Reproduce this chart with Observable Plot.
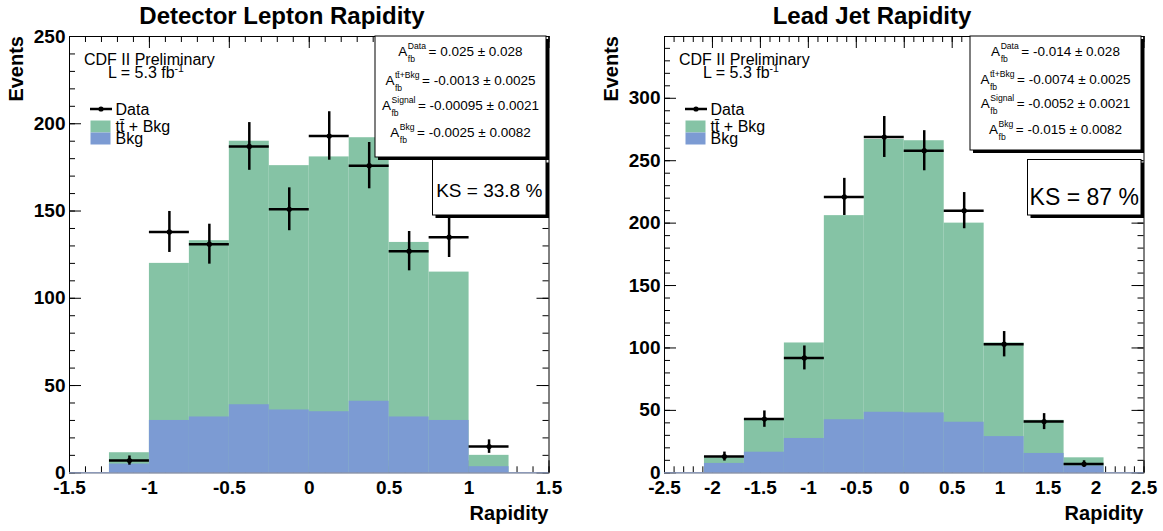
<!DOCTYPE html>
<html>
<head>
<meta charset="utf-8">
<script src="https://cdn.jsdelivr.net/npm/d3@7"></script>
<script src="https://cdn.jsdelivr.net/npm/@observablehq/plot@0.6"></script>
<style>
  html, body { margin: 0; padding: 0; background: #fff; }
  #wrap { display: flex; width: 1163px; height: 531px; overflow: hidden; }
  #wrap svg { display: block; }
</style>
</head>
<body>
<div id="wrap"></div>
<script>
// ---- Detector lepton rapidity: 10 filled bins of width 0.25 ----
const leptonEdges = [-1.25, -1, -0.75, -0.5, -0.25, 0, 0.25, 0.5, 0.75, 1, 1.25];
const leptonTotal = [11.5, 120, 133, 190, 176, 181, 192, 132, 115, 10];   // tt̄ + Bkg
const leptonBkg   = [5, 30, 32, 39, 36, 35, 41, 32, 30, 3.5];
const leptonData  = [7, 138, 131, 187, 151, 193, 176, 127, 135, 15];
const leptonXTicks = [-1.5, -1, -0.5, 0, 0.5, 1, 1.5];
const leptonYTicks = [0, 50, 100, 150, 200, 250];
const leptonAfb = [
  ["Data", "= 0.025 \u00b1 0.028"],
  ["tt\u0304+Bkg", "= -0.0013 \u00b1 0.0025"],
  ["Signal", "= -0.00095 \u00b1 0.0021"],
  ["Bkg", "= -0.0025 \u00b1 0.0082"]
];
const leptonKS = "KS = 33.8 %";

// ---- Lead jet rapidity: 10 filled bins of width 5/12 ----
const jetEdges = [-2.0833, -1.6667, -1.25, -0.8333, -0.4167, 0, 0.4167, 0.8333, 1.25, 1.6667, 2.0833];
const jetTotal = [12, 43, 104, 206, 267, 266, 200, 104, 42, 12];
const jetBkg   = [7.5, 16.5, 27.5, 42.5, 48.5, 48, 40.5, 29, 15.5, 5.5];
const jetData  = [13, 43, 92, 221, 269, 258, 210, 103, 41, 7];
const jetXTicks = [-2.5, -2, -1.5, -1, -0.5, 0, 0.5, 1, 1.5, 2, 2.5];
const jetYTicks = [0, 50, 100, 150, 200, 250, 300];
const jetAfb = [
  ["Data", "= -0.014 \u00b1 0.028"],
  ["tt\u0304+Bkg", "= -0.0074 \u00b1 0.0025"],
  ["Signal", "= -0.0052 \u00b1 0.0021"],
  ["Bkg", "= -0.015 \u00b1 0.0082"]
];
const jetKS = "KS = 87 %";

const FONT = "'Liberation Sans', Arial, Helvetica, sans-serif";
const GREEN = "#85c3a5";
const BLUE = "#7c9bd3";
const H = 531;

function drawPanel(cfg) {
  const frameW = cfg.width - cfg.ml - cfg.mr;
  const frameH = H - cfg.mt - cfg.mb;
  const bins = cfg.total.map((t, i) => ({
    x1: cfg.edges[i], x2: cfg.edges[i + 1],
    xc: (cfg.edges[i] + cfg.edges[i + 1]) / 2,
    total: t, bkg: cfg.bkg[i], data: cfg.data[i],
    lo: cfg.data[i] - Math.sqrt(cfg.data[i]),
    hi: cfg.data[i] + Math.sqrt(cfg.data[i])
  }));
  const minorX = d3.range(cfg.minorXRange[0], cfg.minorXRange[1] + 1).map(k => k / 10);
  const minorY = d3.range(0, cfg.yMax + 0.001, 10);
  const majorY = d3.range(0, cfg.yMax + 0.001, 50);

  const svg = Plot.plot({
    width: cfg.width, height: H,
    marginLeft: cfg.ml, marginRight: cfg.mr, marginTop: cfg.mt, marginBottom: cfg.mb,
    x: {domain: cfg.xDomain},
    y: {domain: [0, cfg.yMax]},
    style: {fontFamily: FONT, background: "#fff", color: "#000"},
    marks: [
      // inward ticks on all four sides
      Plot.tickX(minorX, {x: d => d, insetTop: frameH - 6, stroke: "#000"}),
      Plot.tickX(cfg.xTicks, {x: d => d, insetTop: frameH - 12, stroke: "#000"}),
      Plot.tickX(minorX, {x: d => d, insetBottom: frameH - 6, stroke: "#000"}),
      Plot.tickX(cfg.xTicks, {x: d => d, insetBottom: frameH - 12, stroke: "#000"}),
      Plot.tickY(minorY, {y: d => d, insetRight: frameW - 6, stroke: "#000"}),
      Plot.tickY(majorY, {y: d => d, insetRight: frameW - 12, stroke: "#000"}),
      Plot.tickY(minorY, {y: d => d, insetLeft: frameW - 6, stroke: "#000"}),
      Plot.tickY(majorY, {y: d => d, insetLeft: frameW - 12, stroke: "#000"}),
      // stacked expectation: tt̄ + Bkg, with Bkg drawn over it
      Plot.rect(bins, {x1: "x1", x2: "x2", y1: 0, y2: "total", fill: GREEN}),
      Plot.rect(bins, {x1: "x1", x2: "x2", y1: 0, y2: "bkg", fill: BLUE}),
      Plot.frame({stroke: "#000"}),
      Plot.ruleY([0], {stroke: "#a9bbe6"}),
      // data points with bin-width and Poisson error bars
      Plot.ruleY(bins, {x1: "x1", x2: "x2", y: "data", stroke: "#000", strokeWidth: 2.5}),
      Plot.ruleX(bins, {x: "xc", y1: "lo", y2: "hi", stroke: "#000", strokeWidth: 2.5}),
      Plot.dot(bins, {x: "xc", y: "data", r: 2.6, fill: "#000"}),
      Plot.axisX(cfg.xTicks, {tickSize: 0, tickPadding: 8, tickFormat: d => String(d),
        fontSize: 19, fontWeight: "bold", label: null}),
      Plot.axisY(cfg.yTicks, {tickSize: 0, tickPadding: 4, tickFormat: d => String(d),
        fontSize: 19, fontWeight: "bold", label: null})
    ]
  });
  document.getElementById("wrap").appendChild(svg);

  const g = d3.select(svg).append("g").attr("font-family", FONT).attr("fill", "#000")
    .attr("text-anchor", "start");
  const fl = cfg.ml, fr = cfg.width - cfg.mr;

  // title and axis titles
  g.append("text").attr("x", cfg.titleX).attr("y", 24).attr("text-anchor", "middle")
    .attr("font-size", 24).attr("font-weight", "bold").text(cfg.title);
  g.append("text").attr("transform", `translate(${fl - 46},36) rotate(-90)`)
    .attr("text-anchor", "end").attr("font-size", 20).attr("font-weight", "bold").text("Events");
  g.append("text").attr("x", fr).attr("y", 520).attr("text-anchor", "end")
    .attr("font-size", 20).attr("font-weight", "bold").text("Rapidity");

  // legend
  const lf = 16;
  g.append("text").attr("x", fl + 15).attr("y", 65).attr("font-size", lf).text("CDF II Preliminary");
  const lum = g.append("text").attr("x", fl + 39).attr("y", 78).attr("font-size", lf);
  lum.append("tspan").text("L = 5.3 fb");
  lum.append("tspan").attr("dy", -6.5).attr("font-size", 10.5).text("-1");
  g.append("line").attr("x1", fl + 21).attr("x2", fl + 43).attr("y1", 109).attr("y2", 109)
    .attr("stroke", "#000").attr("stroke-width", 2.5);
  g.append("circle").attr("cx", fl + 32).attr("cy", 109).attr("r", 2.6);
  g.append("text").attr("x", fl + 46.5).attr("y", 115).attr("font-size", lf).text("Data");
  g.append("rect").attr("x", fl + 21.5).attr("y", 120.5).attr("width", 20).attr("height", 12).attr("fill", GREEN);
  g.append("text").attr("x", fl + 46.5).attr("y", 131.5).attr("font-size", lf).text("tt\u0304 + Bkg");
  g.append("rect").attr("x", fl + 21.5).attr("y", 132.5).attr("width", 20).attr("height", 12).attr("fill", BLUE);
  g.append("text").attr("x", fl + 46.5).attr("y", 144).attr("font-size", lf).text("Bkg");

  // boxes with a drop shadow
  function shadowBox(x, y, w, h) {
    g.append("rect").attr("x", x + 3).attr("y", y + 3).attr("width", w).attr("height", h).attr("fill", "#000");
    g.append("rect").attr("x", x).attr("y", y).attr("width", w).attr("height", h)
      .attr("fill", "#fff").attr("stroke", "#000").attr("stroke-width", 1);
  }
  const bw = 171;
  shadowBox(fr - bw - 2.5, 36, bw, cfg.statsH);
  const cx = fr - 2.5 - bw / 2;
  const fs = 13.5, fsSmall = 8.6;
  cfg.baselines.forEach((y, i) => {
    const [sup, rest] = cfg.afb[i];
    const a = g.append("text").attr("y", y).attr("font-size", fs).text("A");
    const s = g.append("text").attr("y", y - 0.55 * fs).attr("font-size", fsSmall).text(sup);
    const b = g.append("text").attr("y", y + 0.45 * fs).attr("font-size", fsSmall).text("fb");
    const r = g.append("text").attr("y", y).attr("font-size", fs).text(rest);
    const wa = a.node().getComputedTextLength();
    const ws = Math.max(s.node().getComputedTextLength(), b.node().getComputedTextLength());
    const wr = r.node().getComputedTextLength();
    const x0 = cx - (wa + 0.5 + ws + 2.5 + wr) / 2;
    a.attr("x", x0);
    s.attr("x", x0 + wa + 0.5);
    b.attr("x", x0 + wa + 0.5);
    r.attr("x", x0 + wa + 0.5 + ws + 2.5);
  });

  shadowBox(fr - 116, 159.5, 113.5, 55.5);
  g.append("text").attr("x", fr - 116 + 113.5 / 2).attr("y", cfg.ksY).attr("text-anchor", "middle")
    .attr("font-size", cfg.ksSize).text(cfg.ks);
}

drawPanel({
  width: 581, ml: 69, mr: 32.5, mt: 36, mb: 58.7,
  xDomain: [-1.5, 1.5], yMax: 250, minorXRange: [-15, 15],
  edges: leptonEdges, total: leptonTotal, bkg: leptonBkg, data: leptonData,
  xTicks: leptonXTicks, yTicks: leptonYTicks,
  title: "Detector Lepton Rapidity", titleX: 282,
  afb: leptonAfb, statsH: 121, baselines: [56, 85, 110, 137],
  ks: leptonKS, ksSize: 19, ksY: 197
});

drawPanel({
  width: 582, ml: 83, mr: 19.5, mt: 36, mb: 58.7,
  xDomain: [-2.5, 2.5], yMax: 349.5, minorXRange: [-25, 25],
  edges: jetEdges, total: jetTotal, bkg: jetBkg, data: jetData,
  xTicks: jetXTicks, yTicks: jetYTicks,
  title: "Lead Jet Rapidity", titleX: 291,
  afb: jetAfb, statsH: 114, baselines: [56, 84, 108, 134],
  ks: jetKS, ksSize: 23, ksY: 204.5
});
</script>
</body>
</html>
